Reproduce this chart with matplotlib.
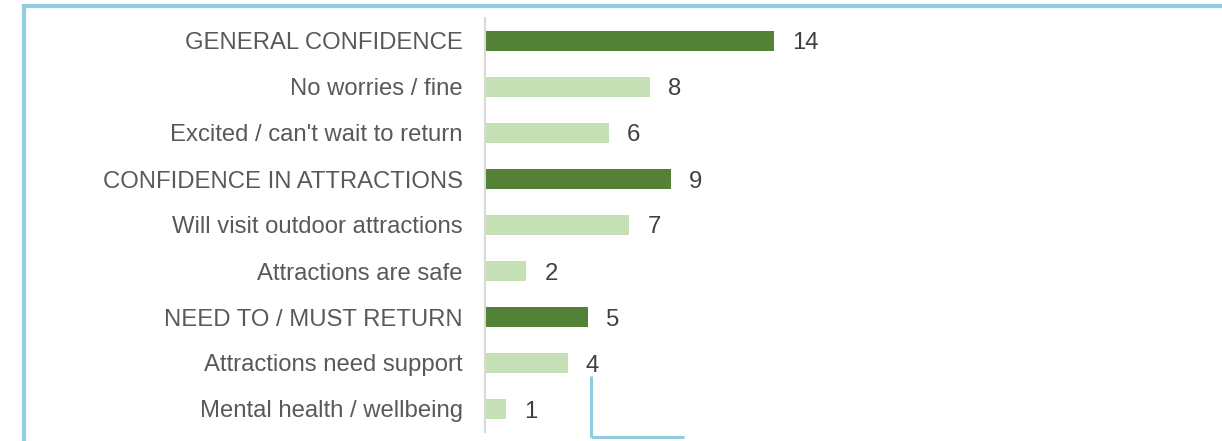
import numpy as np
import matplotlib.pyplot as plt
from matplotlib.lines import Line2D

plt.rcParams['font.family'] = ['Liberation Sans', 'DejaVu Sans']

# data
categories = ["GENERAL CONFIDENCE", "No worries / fine", "Excited / can't wait to return",
              "CONFIDENCE IN ATTRACTIONS", "Will visit outdoor attractions", "Attractions are safe",
              "NEED TO / MUST RETURN", "Attractions need support", "Mental health / wellbeing"]
values = [14, 8, 6, 9, 7, 2, 5, 4, 1]
is_header = [True, False, False, True, False, False, True, False, False]

dark = "#538135"
light = "#C5E0B4"
border = "#92CDDF"

W, H = 1222, 441
fig = plt.figure(figsize=(W / 100, H / 100), dpi=100)

# axes placed in pixel terms
x0, x1 = 485, 1222
y_top, y_bot = 18, 432
ax = fig.add_axes([x0 / W, 1 - y_bot / H, (x1 - x0) / W, (y_bot - y_top) / H])

px_per_unit = 20.64
ax.set_xlim(0, (x1 - x0) / px_per_unit)
ax.set_ylim(len(categories) - 0.5, -0.5)

y = np.arange(len(categories))
colors = [dark if h else light for h in is_header]
ax.barh(y, values, height=0.44, color=colors)

for yi, v in zip(y, values):
    ax.annotate(str(v), (v, yi), xytext=(13, 0), textcoords="offset points",
                va="center_baseline", ha="left", fontsize=17.2, color="#404040")

ax.set_yticks(y)
ax.set_yticklabels(categories, fontsize=17.2, color="#595959")
ax.tick_params(axis="y", length=0, pad=16)
ax.set_xticks([])

for s in ["top", "right", "bottom"]:
    ax.spines[s].set_visible(False)
ax.spines["left"].set_color("#D9D9D9")
ax.spines["left"].set_linewidth(1.5)


def px_line(xs, ys, lw):
    fig.add_artist(Line2D([x / W for x in xs], [1 - yy / H for yy in ys],
                          transform=fig.transFigure, color=border, linewidth=lw,
                          solid_capstyle="butt"))


# outer frame (cropped on right and bottom)
px_line([24, W + 5], [5.5, 5.5], 3)
px_line([24, 24], [4, H + 5], 3)

# callout connector
px_line([591, 591], [376, 437], 2.2)
px_line([591, 684], [437, 437], 2.2)

fig.savefig("out.png", dpi=100, facecolor="white")
